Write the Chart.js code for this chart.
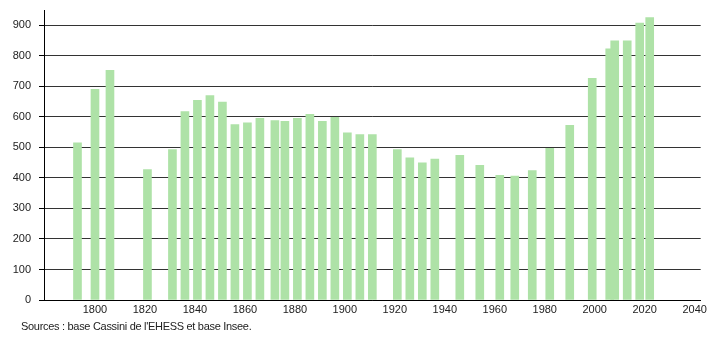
<!DOCTYPE html>
<html>
<head>
<meta charset="utf-8">
<script src="https://cdn.jsdelivr.net/npm/chart.js@4.4.1/dist/chart.umd.min.js"></script>
<style>
  body { margin: 0; background: #fff; }
  #wrap { position: relative; width: 710px; height: 340px; }
  #source {
    position: absolute; left: 21px; top: 320px;
    font: 11px "Liberation Sans", Arial, sans-serif; color: #222; letter-spacing: -0.3px;
  }
</style>
</head>
<body>
<div id="wrap">
  <canvas id="popChart" width="710" height="340"></canvas>
  <div id="source">Sources : base Cassini de l'EHESS et base Insee.</div>
</div>
<script>
// census years and population
const years = [1793, 1800, 1806, 1821, 1831, 1836, 1841, 1846, 1851, 1856, 1861, 1866, 1872, 1876,
  1881, 1886, 1891, 1896, 1901, 1906, 1911, 1921, 1926, 1931, 1936, 1946, 1954, 1962, 1968,
  1975, 1982, 1990, 1999, 2006, 2008, 2013, 2018, 2022];
const population = [515, 690, 752, 427, 493, 617, 654, 670, 648, 575, 580, 595, 588, 585,
  595, 608, 585, 598, 548, 542, 542, 493, 466, 449, 462, 474, 441, 408, 406,
  424, 497, 572, 726, 823, 849, 849, 907, 925];
const xTicks = [1800, 1820, 1840, 1860, 1880, 1900, 1920, 1940, 1960, 1980, 2000, 2020, 2040];

const font = { family: '"Liberation Sans", Arial, sans-serif', size: 11 };

new Chart(document.getElementById('popChart').getContext('2d'), {
  type: 'bar',
  data: {
    datasets: [{
      data: years.map((y, i) => ({ x: y, y: population[i] })),
      backgroundColor: 'rgb(174, 226, 167)',
      borderWidth: 0,
      barThickness: 8
    }]
  },
  options: {
    responsive: false,
    animation: false,
    layout: { padding: { top: 10, right: 9, left: 0, bottom: 0 } },
    plugins: { legend: { display: false }, tooltip: { enabled: false } },
    scales: {
      x: {
        type: 'linear',
        offset: false,
        min: 1779.6,
        max: 2042.4,
        afterBuildTicks: scale => { scale.ticks = xTicks.map(v => ({ value: v })); },
        afterFit: scale => { scale.height = 40; },
        grid: { display: false, drawTicks: false, offset: false },
        border: { color: '#000', width: 1 },
        ticks: { font: font, color: '#222', padding: 3, maxRotation: 0, autoSkip: false,
          callback: v => String(v) }
      },
      y: {
        min: 0,
        max: 950,
        afterFit: scale => {
          scale.width = 44;
          scale.paddingTop = 0;
          scale.paddingBottom = 0;
        },
        grid: {
          color: ctx => (ctx.tick && ctx.tick.value % 100 === 0) ? '#333' : '#ccc',
          tickColor: '#000',
          tickLength: 5
        },
        border: { color: '#000', width: 1 },
        ticks: {
          stepSize: 50,
          font: font,
          color: '#222',
          padding: 8,
          callback: v => (v % 100 === 0 ? v : '')
        }
      }
    }
  }
});
</script>
</body>
</html>
